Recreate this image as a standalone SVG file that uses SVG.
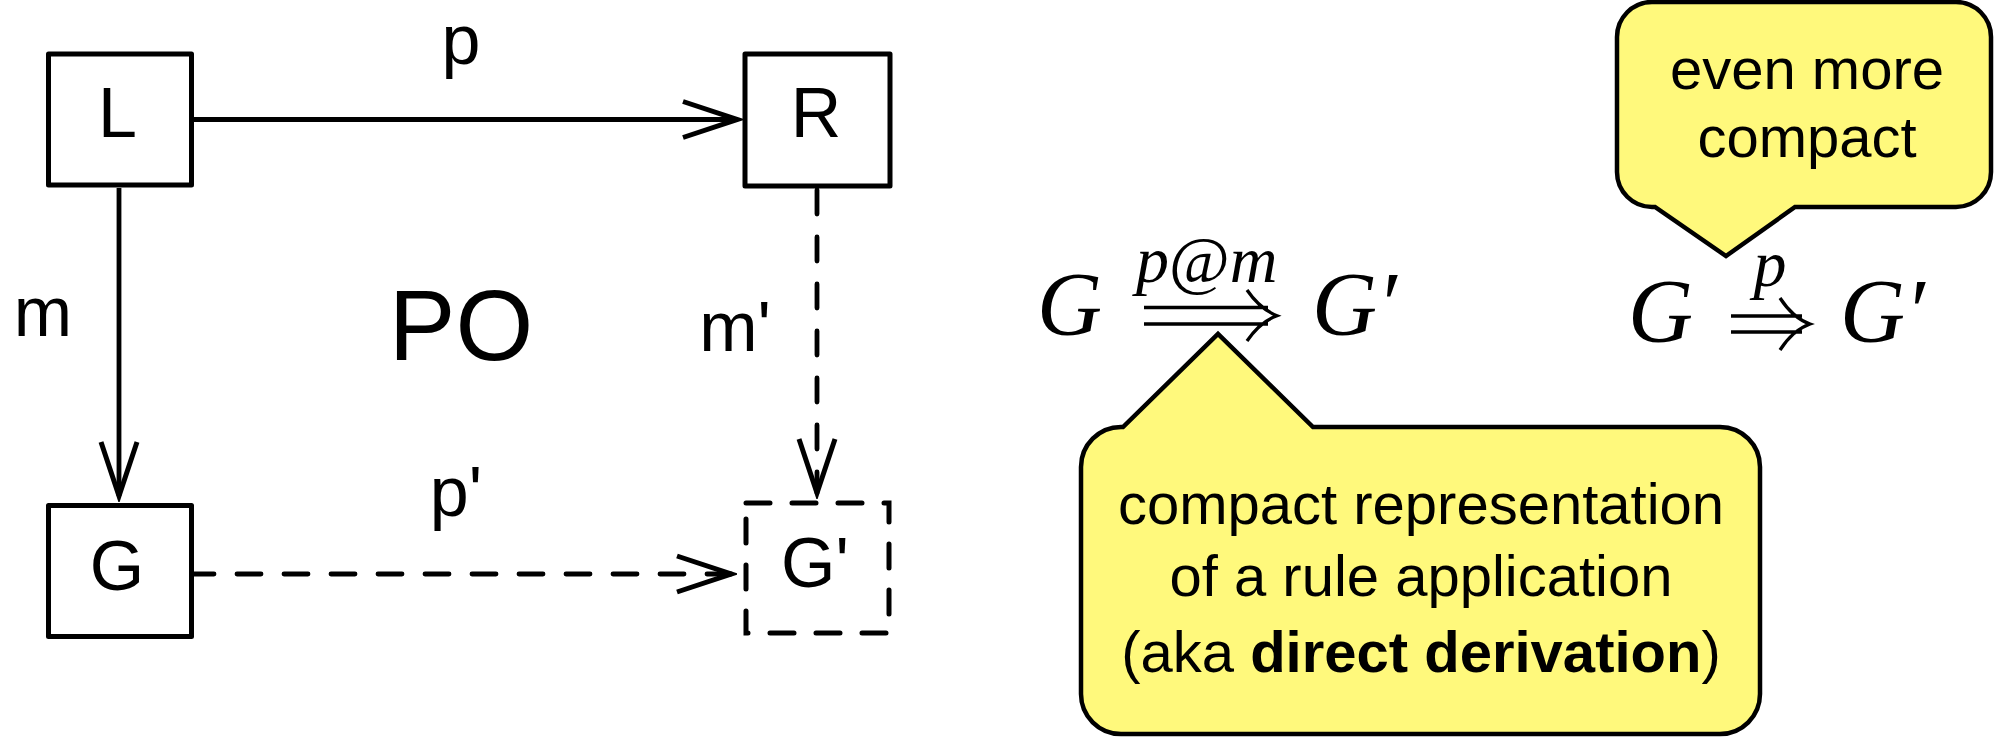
<svg xmlns="http://www.w3.org/2000/svg" width="1995" height="739" viewBox="0 0 1995 739">
  <style>
    .box { fill: #fff; stroke: #000; stroke-width: 5; stroke-linejoin: round; }
    .dashbox { fill: none; stroke: #000; stroke-width: 5; stroke-dasharray: 24 22; stroke-linecap: round; }
    .edge { fill: none; stroke: #000; stroke-width: 4.8; }
    .dashed { stroke-dasharray: 24 23; stroke-linecap: round; }
    .lbl { font-family: "Liberation Sans", Arial, sans-serif; font-size: 70px; fill: #000; text-anchor: middle; }
    .big { font-size: 100px; }
    .math { font-family: "Liberation Serif", "Times New Roman", serif; font-style: italic; font-size: 90px; fill: #000; }
    .sup { font-family: "Liberation Serif", "Times New Roman", serif; font-style: italic; font-size: 66px; fill: #000; }
    .up { font-style: normal; }
    .sym { fill: none; stroke: #000; stroke-width: 3.3; }
    .callout { fill: #fff97c; stroke: #000; stroke-width: 4.5; stroke-linejoin: miter; }
    .ctext { font-family: "Liberation Sans", Arial, sans-serif; font-size: 58px; fill: #000; text-anchor: middle; }
    .bold { font-weight: bold; }
  </style>
  <defs>
    <marker id="vhead" markerUnits="userSpaceOnUse" viewBox="-60 -24 66 48" refX="0" refY="0" markerWidth="66" markerHeight="48" orient="auto">
      <path d="M-54,-18 L0,0 L-54,18" fill="none" stroke="#000" stroke-width="5" stroke-dasharray="none"/>
    </marker>
  </defs>

  <!-- commutative square: connectors -->
  <g id="connectors">
    <path class="edge" d="M194,119.5 L737,119.5" marker-end="url(#vhead)"/>
    <path class="edge" d="M119,188 L119,496" marker-end="url(#vhead)"/>
    <path class="edge dashed" d="M817,190 L817,493" marker-end="url(#vhead)"/>
    <path class="edge dashed" d="M190,574 L731,574" marker-end="url(#vhead)"/>
  </g>

  <!-- edge labels -->
  <g id="labels">
    <text class="lbl" x="461" y="64">p</text>
    <text class="lbl" x="43" y="336">m</text>
    <text class="lbl big" x="461" y="360">PO</text>
    <text class="lbl" x="735" y="351">m'</text>
    <text class="lbl" x="456" y="516">p'</text>
  </g>

  <!-- graph objects -->
  <g id="node-L">
    <rect class="box" x="48.5" y="54" width="143" height="131"/>
    <text class="lbl" x="117.5" y="137">L</text>
  </g>
  <g id="node-R">
    <rect class="box" x="745" y="54" width="145" height="132"/>
    <text class="lbl" x="816" y="137">R</text>
  </g>
  <g id="node-G">
    <rect class="box" x="48.5" y="505.5" width="143" height="131"/>
    <text class="lbl" x="117" y="590">G</text>
  </g>
  <g id="node-Gprime">
    <path class="dashbox" d="M746,503 H889 V633 H746 Z"/>
    <text class="lbl" x="815" y="587">G'</text>
  </g>

  <!-- direct derivation with rule and match -->
  <g id="formula-long">
    <text class="math" x="1037" y="335">G</text>
    <text class="sup" x="1136" y="282">p<tspan class="up">@</tspan>m</text>
    <path class="sym" d="M1144,307.5 H1268 M1144,324 H1268 M1247,290 Q1260,309 1277,315.7 Q1260,322 1247,341"/>
    <text class="math" x="1312" y="335">G′</text>
  </g>

  <!-- short form -->
  <g id="formula-short">
    <text class="math" x="1628" y="342">G</text>
    <text class="sup" x="1770" y="286" text-anchor="middle">p</text>
    <path class="sym" d="M1731,316 H1802 M1731,332 H1802 M1780,298 Q1793,318 1810,324 Q1793,330 1780,350"/>
    <text class="math" x="1840" y="342">G′</text>
  </g>

  <!-- callouts -->
  <g id="callout-derivation">
    <path class="callout" d="M1121,427 L1123,427 L1218,334 L1313,427 L1720,427 A40,40 0 0 1 1760,467 L1760,694 A40,40 0 0 1 1720,734 L1121,734 A40,40 0 0 1 1081,694 L1081,467 A40,40 0 0 1 1121,427 Z"/>
    <text class="ctext" x="1421" y="524">compact representation</text>
    <text class="ctext" x="1421" y="596">of a rule application</text>
    <text class="ctext" x="1421" y="672">(aka <tspan class="bold">direct derivation</tspan>)</text>
  </g>
  <g id="callout-compact">
    <path class="callout" d="M1652,2 L1956,2 A35,35 0 0 1 1991,37 L1991,172 A35,35 0 0 1 1956,207 L1795,207 L1726,256 L1655,207 L1652,207 A35,35 0 0 1 1617,172 L1617,37 A35,35 0 0 1 1652,2 Z"/>
    <text class="ctext" x="1807" y="89">even more</text>
    <text class="ctext" x="1807" y="157">compact</text>
  </g>
</svg>
